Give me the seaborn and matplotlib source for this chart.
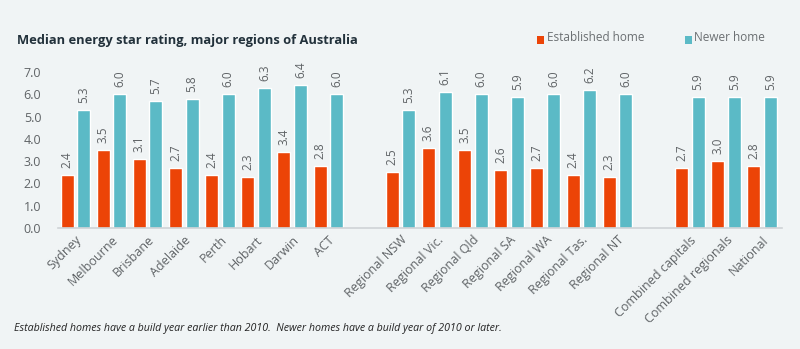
import matplotlib
matplotlib.use("Agg")
import matplotlib.pyplot as plt
import seaborn as sns
import pandas as pd

regions = ["Sydney", "Melbourne", "Brisbane", "Adelaide", "Perth", "Hobart", "Darwin", "ACT",
           "Regional NSW", "Regional Vic.", "Regional Qld", "Regional SA", "Regional WA",
           "Regional Tas.", "Regional NT",
           "Combined capitals", "Combined regionals", "National"]
established = [2.4, 3.5, 3.1, 2.7, 2.4, 2.3, 3.4, 2.8,
               2.5, 3.6, 3.5, 2.6, 2.7, 2.4, 2.3,
               2.7, 3.0, 2.8]
newer = [5.3, 6.0, 5.7, 5.8, 6.0, 6.3, 6.4, 6.0,
         5.3, 6.1, 6.0, 5.9, 6.0, 6.2, 6.0,
         5.9, 5.9, 5.9]
series_names = ["Established home", "Newer home"]
yticks = [0, 1, 2, 3, 4, 5, 6, 7]

# blank slots separate capitals, regional areas and the aggregates
order = regions[:8] + [" "] + regions[8:15] + ["  "] + regions[15:]

df = pd.DataFrame({
    "region": regions * 2,
    "rating": established + newer,
    "type": [series_names[0]] * len(regions) + [series_names[1]] * len(regions),
})

BG = "#f0f4f5"
ORANGE = "#ec4407"
TEAL = "#5bbac6"
GREY = "#5f6366"

sns.set_theme(style="white")
plt.rcParams["font.family"] = ["Open Sans", "DejaVu Sans"]

fig = plt.figure(figsize=(8, 3.49), dpi=100, facecolor=BG)
ax = fig.add_axes([0.0725, 0.3467, 0.905, 0.447])
ax.set_facecolor(BG)

sns.barplot(data=df, x="region", y="rating", hue="type", order=order,
            hue_order=series_names, palette=[ORANGE, TEAL], saturation=1,
            width=0.92, gap=0.22, errorbar=None, legend=False, ax=ax)

for cont in ax.containers:
    for bar in cont:
        h = bar.get_height()
        ax.annotate(f"{h:.1f}", (bar.get_x() + bar.get_width() / 2, h),
                    xytext=(0, 5), textcoords="offset points",
                    rotation=90, ha="center", va="bottom",
                    fontsize=8.5, color=GREY)

ax.set_ylim(0, 7)
ax.set_xlim(-0.48, 19.55)
ax.set_yticks(yticks)
ax.set_yticklabels([f"{v:.1f}" for v in yticks], fontsize=9, color=GREY)
ax.set_xlabel("")
ax.set_ylabel("")
ax.tick_params(axis="both", length=0, pad=4)
ax.tick_params(axis="y", pad=12)
for lbl in ax.get_xticklabels():
    lbl.set_rotation(45)
    lbl.set_ha("right")
    lbl.set_rotation_mode("anchor")
    lbl.set_fontsize(9)
    lbl.set_color(GREY)

for s in ["top", "right", "left"]:
    ax.spines[s].set_visible(False)
ax.spines["bottom"].set_color("#cfd3d6")
ax.spines["bottom"].set_linewidth(1.2)

fig.text(0.021, 0.885, "Median energy star rating, major regions of Australia",
         fontsize=9.3, fontweight="bold", color="#22313b", va="center")

# legend
for xm, xt, col, name in [(0.671, 0.684, ORANGE, series_names[0]),
                          (0.856, 0.868, TEAL, series_names[1])]:
    fig.patches.append(plt.Rectangle((xm, 0.875), 0.0085, 0.022, transform=fig.transFigure,
                                     facecolor=col, edgecolor="none"))
    fig.text(xt, 0.893, name, fontsize=8.5, color="#6b6f72", va="center")

fig.text(0.018, 0.06,
         "Established homes have a build year earlier than 2010.  Newer homes have a build year of 2010 or later.",
         fontsize=7.65, style="italic", color="#222222", va="center")

fig.savefig("out.png", dpi=100, facecolor=BG)
